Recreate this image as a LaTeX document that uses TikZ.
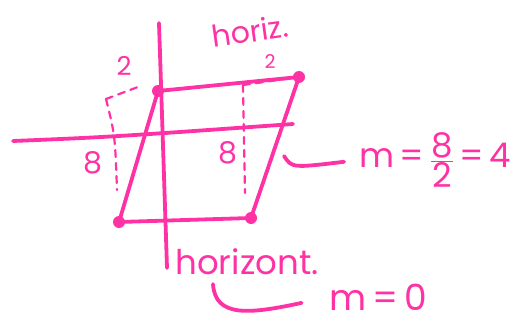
\documentclass[tikz,border=0pt]{standalone}
\usepackage{fontspec}
\setmainfont{Poppins}
\usetikzlibrary{positioning}

\definecolor{marker}{RGB}{255,50,165}

\begin{document}
\begin{tikzpicture}[
  x=1pt, y=-1pt,
  ink/.style={draw=marker, line width=3.8pt, line cap=round, line join=round},
  guide/.style={draw=marker, line width=2.2pt, dashed, dash pattern=on 7pt off 6pt, line cap=round},
  dot/.style={circle, fill=marker, inner sep=0pt, minimum size=12pt},
  hand/.style={text=marker, inner sep=0pt, font=\fontsize{34}{36}\selectfont},
  small/.style={hand, font=\fontsize{26}{28}\selectfont},
  tiny/.style={hand, font=\fontsize{19}{20}\selectfont},
]
\useasboundingbox (0,0) rectangle (527,324);

% axes
\coordinate (xl) at (13,141);
\coordinate (xr) at (293,124);
\coordinate (yt) at (159,23);
\coordinate (yb) at (167,268);
\draw[ink] (xl) .. controls (110,137) .. (xr);
\draw[ink] (yt) -- (yb);

% the four corners
\node[dot] (a) at (158,91)  {};
\node[dot] (b) at (299,77)  {};
\node[dot] (c) at (251,218) {};
\node[dot] (d) at (119,222) {};
\draw[ink] (a.center) -- (b.center) -- (c.center) -- (d.center) -- cycle;

% rise and run, left side
\coordinate (lrun) at (106,99);
\coordinate (lfoot) at (117,190);
\draw[guide] (lrun) -- (138,87);
\draw[guide] (lrun) .. controls (115,135) .. (lfoot);
\node[small] (runl) at (124,66) {2};
\node[hand, font=\fontsize{30}{32}\selectfont] (risel) at (93,163) {8};

% rise and run, right side
\coordinate (rrun) at (243,85);
\coordinate (rfoot) at (245,193);
\draw[guide] (rrun) -- (b);
\draw[guide] (rrun) -- (rfoot);
\node[tiny] (runr) at (270,62) {2};
\node[hand, font=\fontsize{30}{32}\selectfont, rotate=8] (htop) at (250,31) {horiz.};

% labels for the horizontal sides
\node[hand, font=\fontsize{30}{32}\selectfont] (riser) at (228,153) {8};
\node[hand] (hbot) at (247,262) {horizont.};

% slopes
\node[hand, anchor=west] (mside) at (359,160)
  {m\,=\,$\frac{\hbox{8}}{\hbox{2}}$\,=\,4};
\node[hand, font=\fontsize{36}{38}\selectfont] (mflat) at (378,297) {m\,=\,0};
\coordinate (hook1) at (284,156);
\coordinate (hook2) at (213,284);
\draw[ink, shorten >=15pt] (hook1) .. controls (292,168) .. (mside.west);
\draw[ink, shorten >=28pt] (hook2) .. controls (215,318) and (250,314) .. (mflat.west);

\end{tikzpicture}
\end{document}
